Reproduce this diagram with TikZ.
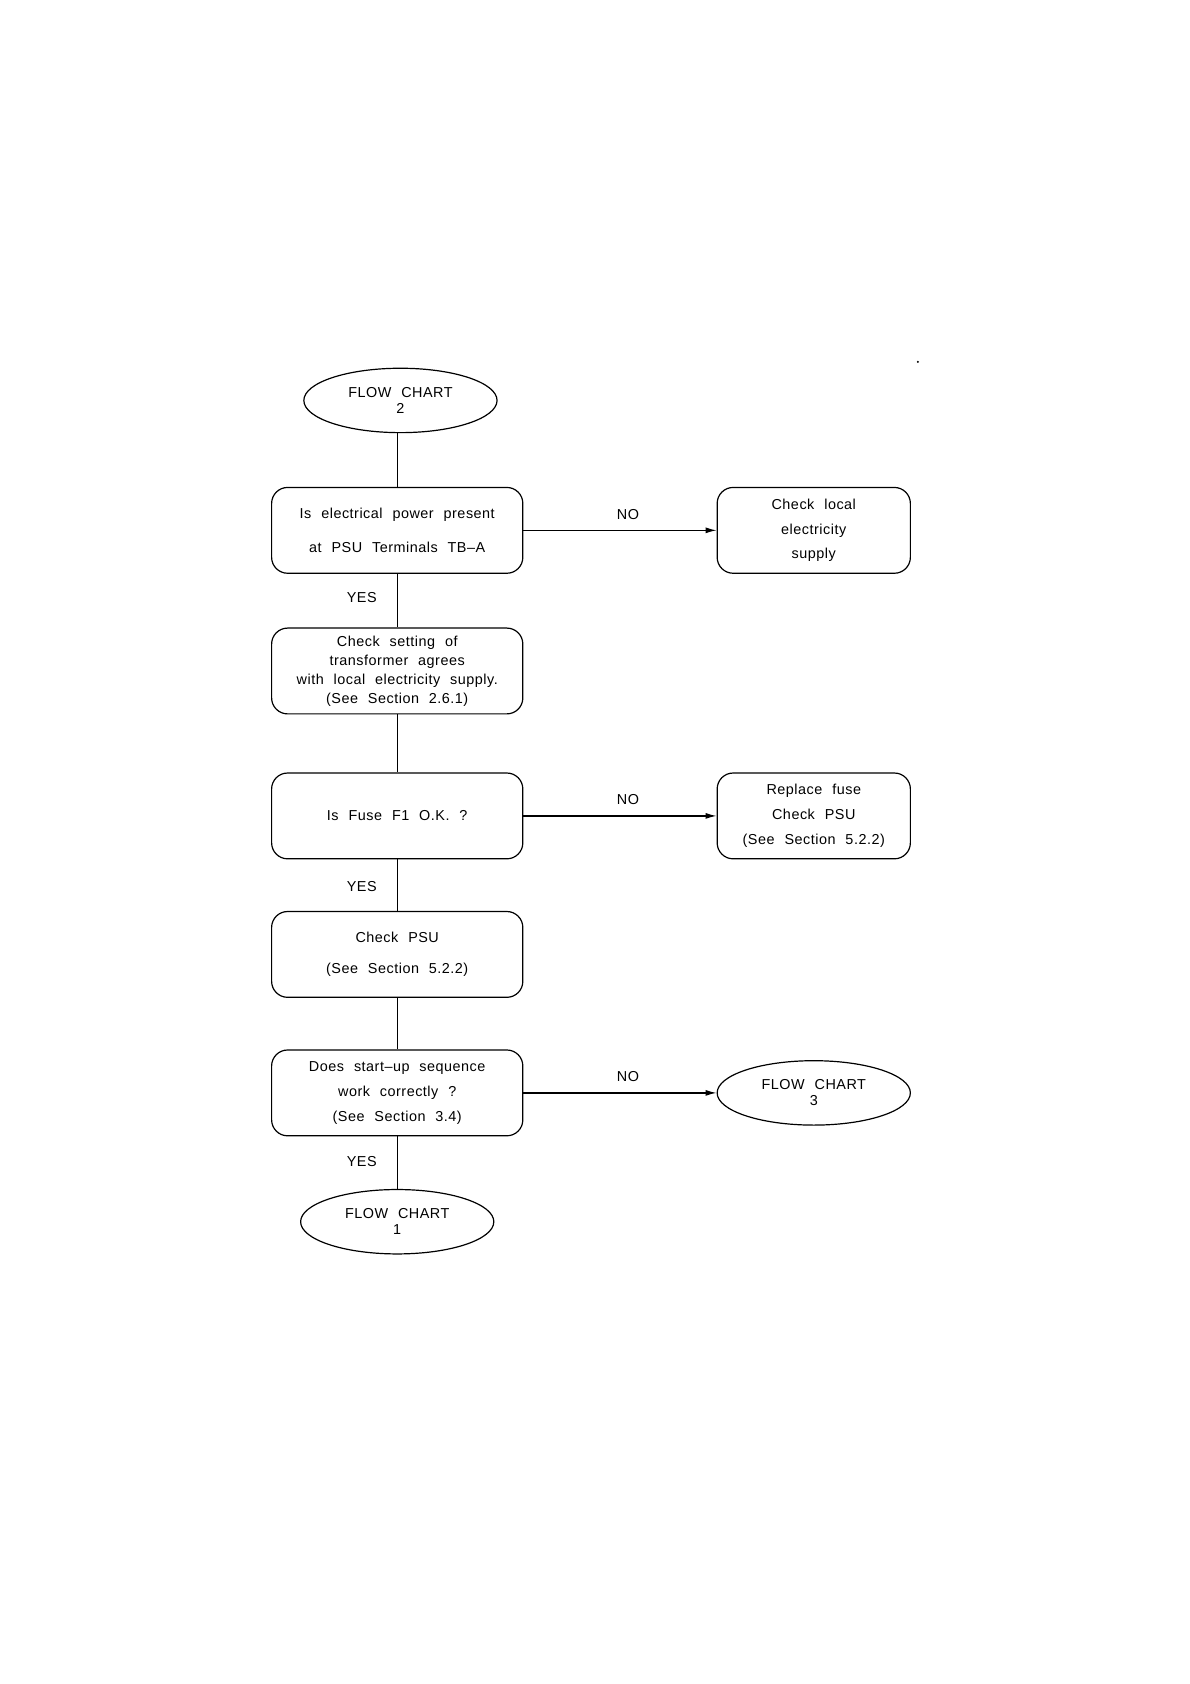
\documentclass[tikz,border=0pt]{standalone}
\usepackage{fontspec}
\setmainfont{Liberation Sans}[LetterSpace=3.5, WordSpace=2.2]
\usetikzlibrary{arrows.meta,shapes.geometric}
\begin{document}
\begin{tikzpicture}[x=0.53675pt,y=-0.53675pt,
  lsp/.style={font=\fontsize{7.2pt}{#1}\selectfont},
  lsp/.default=8pt,
  box/.style={draw, rounded corners=8pt, line width=0.6pt, minimum width=125.6pt, minimum height=42.9pt, inner sep=0pt, align=center, lsp},
  sbox/.style={box, minimum width=96.6pt},
  term/.style={draw, ellipse, line width=0.6pt, minimum width=96.6pt, minimum height=32.2pt, inner sep=0pt, align=center, lsp=8pt},
  conn/.style={line width=0.6pt},
  arr/.style={conn, -{Latex[length=5.5pt,width=3pt]}},
  lbl/.style={inner sep=0pt, lsp}
]
\useasboundingbox (0,0) rectangle (1108.4,1568.6);

\node[term] (fc2) at (373,373) {FLOW CHART\\2};
\node[box, lsp=16.6pt] (q1) at (370,494) {Is electrical power present\\at PSU Terminals TB–A};
\node[sbox, lsp=12.1pt] (r1) at (758,494) {Check local\\electricity\\supply};
\node[box, lsp=9.5pt] (b2) at (370,625) {Check setting of\\transformer agrees\\with local electricity supply.\\(See Section 2.6.1)};
\node[box] (q3) at (370,760) {Is Fuse F1 O.K. ?};
\node[sbox, lsp=12.6pt] (r2) at (758,760) {Replace fuse\\Check PSU\\(See Section 5.2.2)};
\node[box, lsp=15.6pt] (b4) at (370,889) {\raisebox{-1.2pt}{Check PSU}\\\raisebox{-1.2pt}{(See Section 5.2.2)}};
\node[box, lsp=12.6pt] (q5) at (370,1018) {Does start–up sequence\\work correctly ?\\(See Section 3.4)};
\node[term] (fc3) at (758,1018) {FLOW CHART\\3};
\node[term] (fc1) at (370,1138) {FLOW CHART\\1};

\node[circle, fill, inner sep=0.4pt] (dot) at (855,337) {};

\draw[conn] (q1.north) -- (q1.north |- fc2.south);
\draw[conn] (q1.south) -- (b2.north);
\draw[conn] (b2.south) -- (q3.north);
\draw[conn] (q3.south) -- (b4.north);
\draw[conn] (b4.south) -- (q5.north);
\draw[conn] (q5.south) -- (fc1.north);
\draw[arr] (q1.east) -- (r1.west);
\draw[arr] (q3.east) -- (r2.west);
\draw[arr] (q5.east) -- (fc3.west);

\node[lbl] (no1) at (585,479) {NO};
\node[lbl] (no2) at (585,745) {NO};
\node[lbl] (no3) at (585,1003) {NO};
\node[lbl] (yes1) at (337,557) {YES};
\node[lbl] (yes2) at (337,826) {YES};
\node[lbl] (yes3) at (337,1082) {YES};
\end{tikzpicture}
\end{document}
